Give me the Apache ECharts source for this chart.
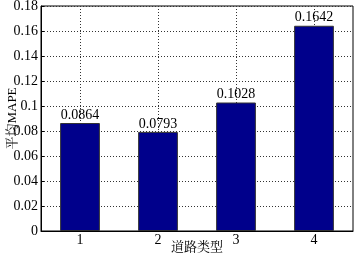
<!DOCTYPE html>
<html><head><meta charset="utf-8">
<script src="https://cdn.jsdelivr.net/npm/echarts@6/dist/echarts.min.js"></script>
<style>html,body{margin:0;padding:0;background:#fff}#c{width:356px;height:255px}</style>
</head><body><div id="c"></div>
<script>
const categories = ['1','2','3','4'];
const values = [0.0864, 0.0793, 0.1028, 0.1642];
const yTicks = {min: 0, max: 0.18, interval: 0.02};
const fontF = '"Liberation Serif","Noto Serif CJK SC","Noto Sans CJK SC",serif';
const chart = echarts.init(document.getElementById('c'));
chart.setOption({
  animation: false,
  grid: {left: 41, right: 3, top: 6, bottom: 24, containLabel: false, outerBoundsMode: 'none',
    show: true, borderColor: '#000', borderWidth: 1, backgroundColor: 'transparent'},
  xAxis: {
    type: 'category', data: categories,
    name: '道路类型', nameLocation: 'middle', nameGap: 10, nameMoveOverlap: false,
    nameTextStyle: {fontFamily: fontF, fontSize: 13, color: '#000'},
    axisLine: {lineStyle: {color: '#000'}},
    axisTick: {show: true, inside: true, alignWithLabel: true, length: 3, lineStyle: {color: '#000'}},
    axisLabel: {fontFamily: fontF, fontSize: 14, color: '#000', margin: 2},
    splitLine: {show: true, alignWithLabel: true, lineStyle: {type: [1, 2], color: '#333'}}
  },
  yAxis: {
    type: 'value', min: yTicks.min, max: yTicks.max, interval: yTicks.interval,
    name: '平均MAPE', nameLocation: 'middle', nameGap: 22, nameMoveOverlap: false,
    nameTextStyle: {fontFamily: fontF, fontSize: 13, color: '#000'},
    axisLine: {show: true, lineStyle: {color: '#000'}},
    axisTick: {show: true, inside: true, length: 3, lineStyle: {color: '#000'}},
    axisLabel: {fontFamily: fontF, fontSize: 14, color: '#000', margin: 3,
      formatter: v => String(parseFloat(v.toFixed(2)))},
    splitLine: {show: true, lineStyle: {type: [1, 2], color: '#333'}}
  },
  series: [{
    type: 'bar', data: values, barWidth: '51%',
    itemStyle: {color: '#00008B', borderColor: '#333', borderWidth: 1},
    label: {show: true, position: 'top', distance: 1, fontFamily: fontF, fontSize: 14, color: '#000',
      formatter: p => p.value.toFixed(4)}
  }]
});
</script></body></html>
